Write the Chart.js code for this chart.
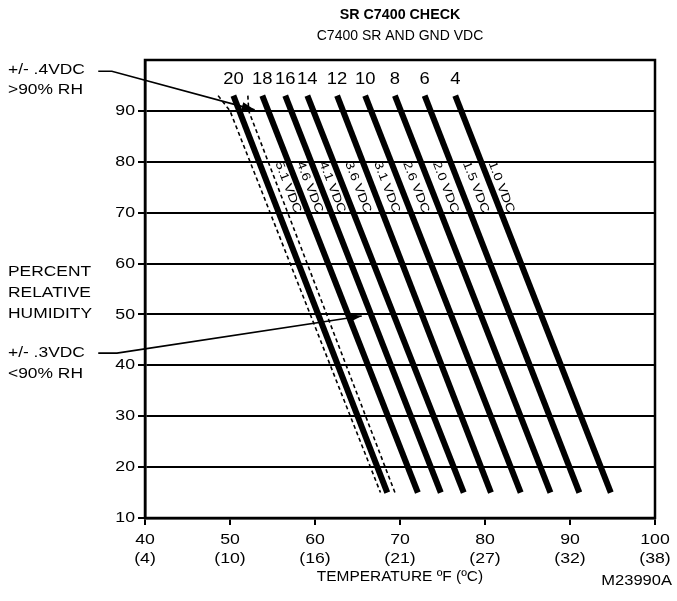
<!DOCTYPE html>
<html>
<head>
<meta charset="utf-8">
<script src="https://cdn.jsdelivr.net/npm/chart.js@4.4.1/dist/chart.umd.min.js"></script>
<style>
  html, body { margin: 0; padding: 0; background: #fff; }
  canvas { display: block; }
</style>
</head>
<body>
<canvas id="chart" width="677" height="601"></canvas>
<script>
// x axis ticks (degF) and their degC captions
const tempTicks = [40, 50, 60, 70, 80, 90, 100];
const celsiusTicks = ['(4)', '(10)', '(16)', '(21)', '(27)', '(32)', '(38)'];

// humidity range covered by the check lines
const rhTop = 93;
const rhBottom = 15;

// solid check lines, one per number printed above it
const lineNames = ['20', '18', '16', '14', '12', '10', '8', '6', '4'];
const topTemps = [50.4, 53.8, 56.5, 59.1, 62.6, 65.9, 69.4, 72.9, 76.5];
const bottomTemps = [68.5, 72.1, 74.8, 77.5, 80.7, 84.2, 87.7, 91.1, 94.8];

// tolerance band around the "20" line (dashed)
const bandRh = [93, 90, 15];
const bandLowTemps = [48.6, 50.0, 67.7];
const bandHighTemps = [52.1, 52.2, 69.4];

// voltage labels written along the lines
const vdcLabels = ['5.1 VDC', '4.6 VDC', '4.1 VDC', '3.6 VDC', '3.1 VDC', '2.6 VDC', '2.0 VDC', '1.5 VDC', '1.0 VDC'];
const vdcRh = 75;

// leader arrows from the notes on the left
const arrowTop = { x: [34.5, 36.1, 52.9], y: [97.8, 97.8, 90.2] };
const arrowLow = { x: [34.5, 36.7, 65.5], y: [42.4, 42.4, 49.7] };

const FONT = "'Liberation Sans', Arial, Helvetica, sans-serif";
Chart.defaults.color = '#000';
Chart.defaults.font.family = FONT;
Chart.defaults.font.size = 14;

function xAt(top, bottom, rh) {
    return top + (bottom - top) * (rhTop - rh) / (rhTop - rhBottom);
}

// the drawing uses a slightly wide sans, so stretch text horizontally
function wideText(ctx, text, x, y, align, font, sx) {
    ctx.save();
    ctx.font = font;
    ctx.textAlign = 'left';
    ctx.textBaseline = 'middle';
    const w = ctx.measureText(text).width * sx;
    let left = x;
    if (align === 'center') left = x - w / 2;
    else if (align === 'right') left = x - w;
    ctx.translate(left, y);
    ctx.scale(sx, 1);
    ctx.fillText(text, 0, 0);
    ctx.restore();
}

const datasets = [];
for (let i = 0; i < lineNames.length; i++) {
    datasets.push({
        label: lineNames[i],
        data: [{ x: topTemps[i], y: rhTop }, { x: bottomTemps[i], y: rhBottom }],
        borderColor: '#000',
        borderWidth: 6,
        pointRadius: 0,
        showLine: true
    });
}
[bandLowTemps, bandHighTemps].forEach(function(temps, k) {
    datasets.push({
        label: k ? 'band high' : 'band low',
        data: temps.map((t, j) => ({ x: t, y: bandRh[j] })),
        borderColor: '#000',
        borderWidth: 1.6,
        borderDash: [4, 3],
        pointRadius: 0,
        showLine: true
    });
});

function drawArrow(ctx, xs, ys, arrow) {
    const px = arrow.x.map(v => xs.getPixelForValue(v));
    const py = arrow.y.map(v => ys.getPixelForValue(v));
    ctx.save();
    ctx.strokeStyle = '#000';
    ctx.lineWidth = 1.6;
    ctx.beginPath();
    ctx.moveTo(px[0], py[0]);
    for (let i = 1; i < px.length; i++) ctx.lineTo(px[i], py[i]);
    ctx.stroke();
    const n = px.length - 1;
    const a = Math.atan2(py[n] - py[n - 1], px[n] - px[n - 1]);
    ctx.translate(px[n], py[n]);
    ctx.rotate(a);
    ctx.beginPath();
    ctx.moveTo(0, 0);
    ctx.lineTo(-13, -4.5);
    ctx.lineTo(-13, 4.5);
    ctx.closePath();
    ctx.fillStyle = '#000';
    ctx.fill();
    ctx.restore();
}

const annotations = {
    id: 'annotations',
    afterDraw(chart) {
        const ctx = chart.ctx;
        const xs = chart.scales.x, ys = chart.scales.y;
        const area = chart.chartArea;

        // frame
        ctx.save();
        ctx.strokeStyle = '#000';
        ctx.lineWidth = 2.5;
        ctx.strokeRect(area.left, area.top, area.right - area.left, area.bottom - area.top);
        ctx.fillStyle = '#000';

        // tick labels, taken from the scales
        ys.ticks.forEach(function(t) {
            if (t.value === 100) return;
            wideText(ctx, String(t.value), area.left - 10, ys.getPixelForValue(t.value), 'right', '15px ' + FONT, 1.18);
        });
        xs.ticks.forEach(function(t) {
            const px = xs.getPixelForValue(t.value);
            const i = tempTicks.indexOf(t.value);
            wideText(ctx, String(t.value), px, area.bottom + 22, 'center', '15px ' + FONT, 1.18);
            wideText(ctx, celsiusTicks[i], px, area.bottom + 41, 'center', '15px ' + FONT, 1.18);
        });

        // titles
        const cx = (area.left + area.right) / 2;
        wideText(ctx, 'SR C7400 CHECK', cx, 15, 'center', 'bold 14px ' + FONT, 1.02);
        wideText(ctx, 'C7400 SR AND GND VDC', cx, 36, 'center', '14px ' + FONT, 1.0);

        // x axis title and figure number
        wideText(ctx, 'TEMPERATURE ºF (ºC)', cx, 577, 'center', '15px ' + FONT, 1.03);
        wideText(ctx, 'M23990A', 672, 581, 'right', '14px ' + FONT, 1.18);

        // left notes
        const noteFont = '15px ' + FONT;
        wideText(ctx, '+/- .4VDC', 8, 70, 'left', noteFont, 1.16);
        wideText(ctx, '>90% RH', 8, 90, 'left', noteFont, 1.16);
        wideText(ctx, 'PERCENT', 8, 272, 'left', noteFont, 1.16);
        wideText(ctx, 'RELATIVE', 8, 293, 'left', noteFont, 1.16);
        wideText(ctx, 'HUMIDITY', 8, 314, 'left', noteFont, 1.16);
        wideText(ctx, '+/- .3VDC', 8, 353, 'left', noteFont, 1.16);
        wideText(ctx, '<90% RH', 8, 374, 'left', noteFont, 1.16);

        // numbers above the lines
        for (let i = 0; i < lineNames.length; i++) {
            wideText(ctx, lineNames[i], xs.getPixelForValue(topTemps[i]), ys.getPixelForValue(96.1), 'center', '16px ' + FONT, 1.15);
        }

        // voltage labels along the lines
        const ang = Math.atan2(
            ys.getPixelForValue(rhBottom) - ys.getPixelForValue(rhTop),
            xs.getPixelForValue(bottomTemps[0]) - xs.getPixelForValue(topTemps[0])
        );
        for (let i = 0; i < vdcLabels.length; i++) {
            let left, right;
            if (i === 0) {
                left = bandHighTemps[1] + (bandHighTemps[2] - bandHighTemps[1]) * (bandRh[1] - vdcRh) / (bandRh[1] - bandRh[2]);
            } else {
                left = xAt(topTemps[i], bottomTemps[i], vdcRh);
            }
            if (i < lineNames.length - 1) {
                right = xAt(topTemps[i + 1], bottomTemps[i + 1], vdcRh);
            } else {
                right = left + 2.4;
            }
            const x = (left + right) / 2;
            ctx.save();
            ctx.translate(xs.getPixelForValue(x), ys.getPixelForValue(vdcRh));
            ctx.rotate(ang);
            wideText(ctx, vdcLabels[i], 0, 0, 'center', '12px ' + FONT, 1.2);
            ctx.restore();
        }
        ctx.restore();

        drawArrow(ctx, xs, ys, arrowTop);
        drawArrow(ctx, xs, ys, arrowLow);
    }
};

new Chart(document.getElementById('chart'), {
    type: 'scatter',
    data: { datasets: datasets },
    options: {
        responsive: false,
        animation: false,
        devicePixelRatio: 1,
        layout: { padding: { top: 60, right: 22, left: 0, bottom: 0 } },
        plugins: {
            legend: { display: false },
            tooltip: { enabled: false }
        },
        scales: {
            x: {
                type: 'linear',
                min: 40,
                max: 100,
                afterFit(scale) { scale.height = 83; },
                afterBuildTicks(scale) { scale.ticks = tempTicks.map(v => ({ value: v })); },
                ticks: { display: false },
                grid: { drawOnChartArea: false, color: '#000', lineWidth: 2, tickLength: 7 },
                border: { color: '#000', width: 2.5 }
            },
            y: {
                type: 'linear',
                min: 10,
                max: 100,
                afterFit(scale) { scale.width = 145; },
                ticks: { display: false, stepSize: 10 },
                grid: {
                    color: ctx => (ctx.tick && ctx.tick.value === 100) ? 'rgba(0,0,0,0)' : '#000',
                    lineWidth: 2,
                    tickLength: 7
                },
                border: { color: '#000', width: 2.5 }
            }
        }
    },
    plugins: [annotations]
});
</script>
</body>
</html>
